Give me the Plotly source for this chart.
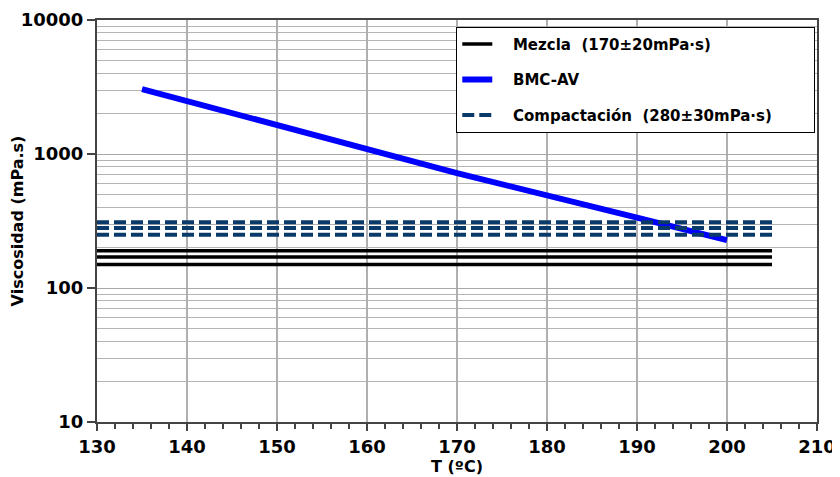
import plotly.graph_objects as go

# Data
t_range = [130, 205]
mezcla_levels = [150, 170, 190]          # mPa·s (170 ± 20)
compact_levels = [250, 280, 310]         # mPa·s (280 ± 30)
bmc_T = [135, 150, 170, 190, 200]
bmc_visc = [3050, 1650, 720, 335, 228]

x_ticks = [130, 140, 150, 160, 170, 180, 190, 200, 210]
y_ticks = [10, 100, 1000, 10000]

NB = "\u00a0"
LEAD = NB * 3
PAD = NB * 6 + "<span style='color:white'>.</span>"
FONT = "DejaVu Sans"
fig = go.Figure()

for i, lv in enumerate(mezcla_levels):
    fig.add_trace(go.Scatter(
        x=t_range, y=[lv, lv], mode="lines",
        line=dict(color="black", width=3.5),
        name=LEAD + "Mezcla" + NB + " (170±20mPa·s)", legendgroup="a",
        showlegend=(i == 1), legendrank=1))

fig.add_trace(go.Scatter(
    x=bmc_T, y=bmc_visc, mode="lines",
    line=dict(color="#0000ff", width=6),
    name=LEAD + "BMC-AV", legendgroup="b", legendrank=2))

for i, lv in enumerate(compact_levels):
    fig.add_trace(go.Scatter(
        x=t_range, y=[lv, lv], mode="lines",
        line=dict(color="#0a3a6a", width=4, dash="12px,5px"),
        name=LEAD + "Compactación" + NB + " (280±30mPa·s)" + PAD, legendgroup="c",
        showlegend=(i == 1), legendrank=3))

# The page body adds an 8px offset; the figure is sized to compensate.
fig.update_layout(
    width=832, height=469,
    margin=dict(l=89, r=23, t=12, b=55, autoexpand=False),
    paper_bgcolor="white", plot_bgcolor="white",
    font=dict(family=FONT, color="black"),
    showlegend=True,
    legend=dict(
        x=0.499, y=0.983, xanchor="left", yanchor="top",
        bgcolor="white", bordercolor="black", borderwidth=1,
        font=dict(family=FONT, size=15, color="black", weight="bold"),
        traceorder="grouped", tracegroupgap=13,
    ),
    xaxis=dict(
        range=[130, 210], tickvals=x_ticks, ticktext=[str(v) for v in x_ticks],
        showgrid=True, gridcolor="#b0b0b0", gridwidth=1.5,
        showline=True, linecolor="#444444", linewidth=2, mirror=True,
        ticks="outside", ticklen=7, tickcolor="#444444", tickwidth=1.5,
        minor=dict(dtick=2, ticks="outside", ticklen=5, tickcolor="#444444", showgrid=False),
        tickfont=dict(family=FONT, size=18, color="black", weight="bold"),
        title=dict(text="T (ºC)", font=dict(family=FONT, size=16, color="black", weight="bold"), standoff=2),
        zeroline=False, automargin=False,
    ),
    yaxis=dict(
        type="log", range=[1, 4], tickvals=y_ticks, ticktext=[str(v) for v in y_ticks],
        showgrid=True, gridcolor="#a8a8a8", gridwidth=1,
        showline=True, linecolor="#444444", linewidth=2, mirror=True,
        ticks="outside", ticklen=8, tickcolor="#444444", tickwidth=1.5,
        minor=dict(dtick="D1", showgrid=True, gridcolor="#b4b4b4", gridwidth=1, ticks=""),
        tickfont=dict(family=FONT, size=18, color="black", weight="bold"),
        title=dict(text="Viscosidad (mPa.s)", font=dict(family=FONT, size=16, color="black", weight="bold"), standoff=8),
        zeroline=False, automargin=False,
    ),
)

fig.write_html("out.html")
